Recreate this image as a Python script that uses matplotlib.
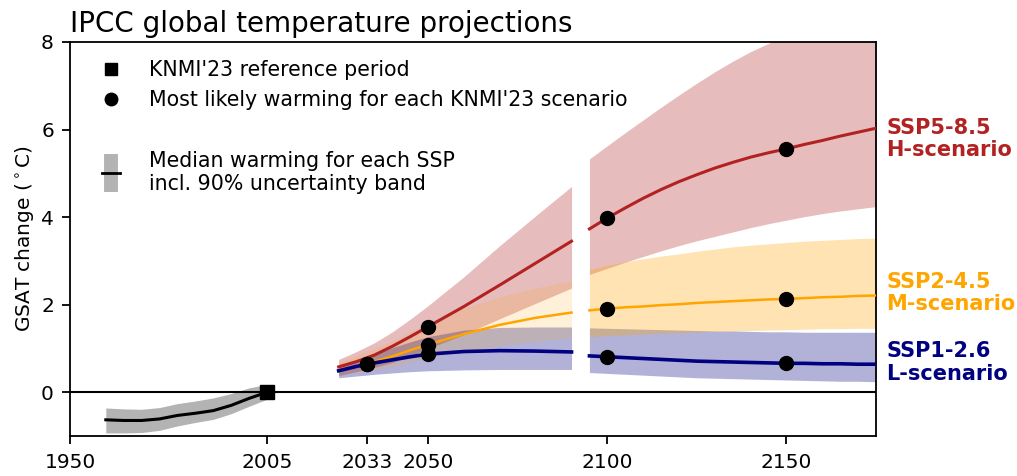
import matplotlib
matplotlib.use("Agg")
import matplotlib.pyplot as plt
import matplotlib.transforms as mtransforms
from matplotlib.lines import Line2D

# Historical (observed) warming, relative to the reference period
hist_years = [1960, 1965, 1970, 1975, 1980, 1985, 1990, 1995, 2000, 2005]
hist_med = [-0.63, -0.645, -0.645, -0.61, -0.53, -0.48, -0.42, -0.30, -0.14, 0.0]
hist_hi = [-0.36, -0.38, -0.39, -0.35, -0.26, -0.20, -0.13, -0.03, 0.10, 0.18]
hist_lo = [-0.93, -0.93, -0.92, -0.87, -0.77, -0.69, -0.62, -0.49, -0.32, -0.16]

# SSP projections, first part (up to 2090)
years1 = [2025, 2030, 2035, 2040, 2045, 2050, 2060, 2070, 2080, 2090]
red_med1 = [0.58, 0.70, 0.85, 1.05, 1.27, 1.50, 1.96, 2.45, 2.95, 3.45]
red_hi1 = [0.75, 0.93, 1.13, 1.38, 1.67, 1.98, 2.64, 3.35, 4.03, 4.70]
red_lo1 = [0.38, 0.47, 0.57, 0.68, 0.83, 1.00, 1.32, 1.68, 2.03, 2.38]
ora_med1 = [0.51, 0.59, 0.70, 0.82, 0.96, 1.09, 1.33, 1.54, 1.70, 1.82]
ora_hi1 = [0.68, 0.84, 1.00, 1.17, 1.38, 1.58, 1.92, 2.18, 2.38, 2.55]
ora_lo1 = [0.40, 0.45, 0.51, 0.58, 0.68, 0.78, 0.93, 1.06, 1.16, 1.25]
blu_med1 = [0.49, 0.59, 0.67, 0.74, 0.81, 0.87, 0.93, 0.95, 0.94, 0.92]
blu_hi1 = [0.60, 0.74, 0.88, 1.02, 1.15, 1.27, 1.42, 1.48, 1.49, 1.49]
blu_lo1 = [0.33, 0.37, 0.41, 0.44, 0.47, 0.49, 0.51, 0.52, 0.52, 0.52]

# SSP projections, second part (2095 onwards)
years2 = [2095, 2100, 2105, 2110, 2115, 2120, 2125, 2130, 2135, 2140, 2145, 2150,
          2155, 2160, 2165, 2170, 2175]
red_med2 = [3.73, 3.98, 4.21, 4.43, 4.63, 4.81, 4.97, 5.12, 5.25, 5.37, 5.47, 5.56,
            5.66, 5.75, 5.85, 5.94, 6.03]
red_hi2 = [5.33, 5.63, 5.93, 6.22, 6.51, 6.79, 7.06, 7.32, 7.56, 7.78, 7.97, 8.15,
           8.32, 8.48, 8.63, 8.78, 8.92]
red_lo2 = [2.69, 2.83, 2.97, 3.10, 3.23, 3.35, 3.46, 3.56, 3.66, 3.76, 3.85, 3.93,
           4.01, 4.08, 4.14, 4.19, 4.24]
ora_med2 = [1.87, 1.91, 1.94, 1.96, 1.99, 2.01, 2.04, 2.06, 2.08, 2.10, 2.12, 2.13,
            2.15, 2.17, 2.18, 2.20, 2.21]
ora_hi2 = [2.80, 2.90, 2.98, 3.05, 3.11, 3.16, 3.22, 3.27, 3.32, 3.36, 3.39, 3.42,
           3.45, 3.47, 3.49, 3.51, 3.52]
ora_lo2 = [1.27, 1.29, 1.31, 1.33, 1.35, 1.36, 1.38, 1.39, 1.40, 1.41, 1.42, 1.43,
           1.44, 1.45, 1.45, 1.46, 1.46]
blu_med2 = [0.83, 0.81, 0.79, 0.77, 0.75, 0.73, 0.71, 0.70, 0.69, 0.68, 0.67, 0.66,
            0.66, 0.65, 0.65, 0.64, 0.64]
blu_hi2 = [1.47, 1.46, 1.45, 1.44, 1.43, 1.42, 1.41, 1.40, 1.40, 1.39, 1.38, 1.38,
           1.37, 1.37, 1.37, 1.37, 1.37]
blu_lo2 = [0.45, 0.43, 0.41, 0.39, 0.37, 0.35, 0.33, 0.32, 0.31, 0.30, 0.29, 0.28,
           0.27, 0.26, 0.25, 0.25, 0.24]

# KNMI'23 scenario points
knmi_years = [2033, 2050, 2100, 2150]
knmi_H = [0.65, 1.50, 3.98, 5.56]
knmi_M = [0.65, 1.09, 1.91, 2.13]
knmi_L = [0.65, 0.87, 0.81, 0.66]

ref_year = 2005
ref_value = 0.0

xticks = [1950, 2005, 2033, 2050, 2100, 2150]
yticks = [0, 2, 4, 6, 8]

RED = "firebrick"
ORANGE = "orange"
BLUE = "navy"

plt.rcParams["font.family"] = "DejaVu Sans"
plt.rcParams["font.size"] = 14.5

fig = plt.figure(figsize=(10.17, 4.76), dpi=100)
ax = fig.add_axes([0.0688, 0.084, 0.7926, 0.8278])

# bands
ax.fill_between(hist_years, hist_lo, hist_hi, color="0.7", lw=0)
ax.fill_between(years1, red_lo1, red_hi1, color=RED, alpha=0.3, lw=0)
ax.fill_between(years1, blu_lo1, blu_hi1, color=BLUE, alpha=0.3, lw=0)
ax.fill_between(years1, ora_lo1, ora_hi1, color=ORANGE, alpha=0.15, lw=0)
ax.fill_between(years2, red_lo2, red_hi2, color=RED, alpha=0.3, lw=0)
ax.fill_between(years2, blu_lo2, blu_hi2, color=BLUE, alpha=0.3, lw=0)
ax.fill_between(years2, ora_lo2, ora_hi2, color=ORANGE, alpha=0.3, lw=0)

ax.axhline(0, color="black", lw=1.5, zorder=2)

# medians
ax.plot(hist_years, hist_med, color="black", lw=2.2, zorder=3)
for yrs, med, col, lw in [(years1, red_med1, RED, 2.2), (years1, ora_med1, ORANGE, 1.8),
                          (years1, blu_med1, BLUE, 2.6), (years2, red_med2, RED, 2.2),
                          (years2, ora_med2, ORANGE, 1.8), (years2, blu_med2, BLUE, 2.6)]:
    ax.plot(yrs, med, color=col, lw=lw, zorder=3)

# KNMI'23 points
for vals in [knmi_H, knmi_M, knmi_L]:
    ax.plot(knmi_years, vals, "o", color="black", ms=10, zorder=4)
ax.plot([ref_year], [ref_value], "s", color="black", ms=10, zorder=4)

ax.set_xlim(1950, 2175)
ax.set_ylim(-1, 8)
ax.set_xticks(xticks)
ax.set_yticks(yticks)
for s in ax.spines.values():
    s.set_linewidth(1.3)
ax.tick_params(width=1.3, length=5.5)
ax.tick_params(axis="x", pad=7)
ax.tick_params(axis="y", pad=6)
ax.set_ylabel(r"GSAT change ($^\circ$C)", labelpad=4)
ax.set_title("IPCC global temperature projections", loc="left", fontsize=20, pad=7)

# scenario labels at the right
trans = mtransforms.blended_transform_factory(ax.transAxes, ax.transData)
labels = [("SSP5-8.5\nH-scenario", 5.79, RED), ("SSP2-4.5\nM-scenario", 2.26, ORANGE),
          ("SSP1-2.6\nL-scenario", 0.68, BLUE)]
for txt, yv, col in labels:
    ax.text(1.013, yv, txt, transform=trans, color=col, fontweight="bold",
            va="center", ha="left", fontsize=15, linespacing=1.15, clip_on=False)

# legends
leg_kw = dict(loc="upper left", frameon=False, handlelength=0.9, handletextpad=1.4,
              fontsize=14.8, labelspacing=0.5, borderaxespad=0, borderpad=0.4)
h_sq = Line2D([], [], marker="s", color="black", ls="none", ms=9)
h_ci = Line2D([], [], marker="o", color="black", ls="none", ms=9)
leg1 = ax.legend([h_sq, h_ci],
                 ["KNMI'23 reference period", "Most likely warming for each KNMI'23 scenario"],
                 bbox_to_anchor=(0.0295, 0.975), **leg_kw)
ax.add_artist(leg1)

h_band = Line2D([], [], marker="|", color="0.7", ls="none", ms=27, mew=10)
h_med = Line2D([], [], color="black", lw=2)
ax.legend([(h_band, h_med)], ["Median warming for each SSP\nincl. 90% uncertainty band"],
          bbox_to_anchor=(0.0295, 0.745), **leg_kw)

fig.savefig("out.png", dpi=100)
